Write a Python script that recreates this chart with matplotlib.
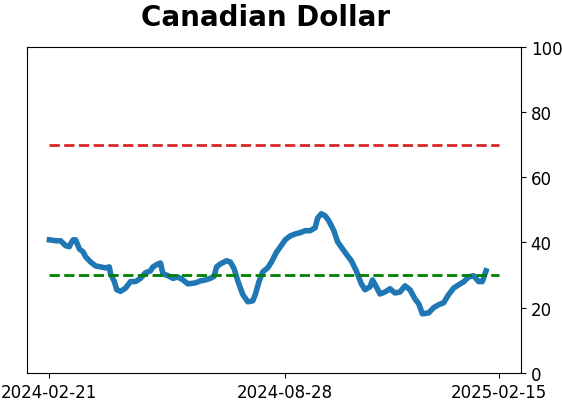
import numpy as np
import pandas as pd
import matplotlib
matplotlib.use("Agg")
import matplotlib.pyplot as plt

title = "Canadian Dollar"

dates = [
    "2024-02-21", "2024-02-27", "2024-03-01", "2024-03-05", "2024-03-08", "2024-03-09",
    "2024-03-11", "2024-03-13", "2024-03-16", "2024-03-19", "2024-03-21", "2024-03-25",
    "2024-03-29", "2024-04-02", "2024-04-06", "2024-04-09", "2024-04-10", "2024-04-13",
    "2024-04-15", "2024-04-18", "2024-04-22", "2024-04-26", "2024-04-30", "2024-05-04",
    "2024-05-08", "2024-05-12", "2024-05-14", "2024-05-18", "2024-05-20", "2024-05-22",
    "2024-05-26", "2024-05-30", "2024-06-03", "2024-06-07", "2024-06-11", "2024-06-17",
    "2024-06-21", "2024-06-25", "2024-06-29", "2024-07-02", "2024-07-04", "2024-07-07",
    "2024-07-12", "2024-07-15", "2024-07-18", "2024-07-21", "2024-07-25", "2024-07-29",
    "2024-08-02", "2024-08-04", "2024-08-07", "2024-08-10", "2024-08-14", "2024-08-17",
    "2024-08-21", "2024-08-24", "2024-08-28", "2024-09-01", "2024-09-05", "2024-09-09",
    "2024-09-13", "2024-09-17", "2024-09-21", "2024-09-23", "2024-09-26", "2024-09-29",
    "2024-10-02", "2024-10-06", "2024-10-09", "2024-10-13", "2024-10-17", "2024-10-20",
    "2024-10-24", "2024-10-28", "2024-10-31", "2024-11-04", "2024-11-06", "2024-11-09",
    "2024-11-12", "2024-11-16", "2024-11-20", "2024-11-24", "2024-11-28", "2024-12-02",
    "2024-12-06", "2024-12-10", "2024-12-13", "2024-12-16", "2024-12-21", "2024-12-25",
    "2024-12-29", "2025-01-02", "2025-01-06", "2025-01-10", "2025-01-14", "2025-01-18",
    "2025-01-22", "2025-01-26", "2025-01-30", "2025-02-02", "2025-02-05",
]
values = [
    40.8, 40.5, 40.5, 39.0, 38.7, 39.6,
    40.8, 40.8, 38.0, 37.1, 35.6, 34.0,
    32.8, 32.5, 32.2, 32.5, 30.4, 28.0,
    25.5, 25.0, 26.0, 28.0, 28.0, 29.0,
    30.7, 31.3, 32.5, 33.4, 33.7, 30.4,
    29.8, 29.0, 29.4, 28.5, 27.3, 27.6,
    28.2, 28.5, 29.0, 29.6, 32.5, 33.4,
    34.4, 34.0, 32.0, 28.2, 24.0, 21.8,
    22.1, 24.0, 28.0, 31.0, 32.2, 34.0,
    37.0, 38.6, 40.8, 42.0, 42.6, 43.0,
    43.6, 43.6, 44.5, 47.5, 48.8, 48.2,
    46.6, 43.6, 40.2, 38.0, 35.9, 34.4,
    31.3, 27.3, 25.5, 26.4, 28.5, 26.4,
    24.2, 24.8, 25.8, 24.5, 24.8, 26.7,
    25.5, 22.7, 21.2, 18.1, 18.4, 20.0,
    20.9, 21.5, 24.0, 26.0, 27.0, 27.9,
    29.4, 29.8, 28.0, 28.0, 31.3,
]

upper_level = 70
lower_level = 30
band_start = "2024-02-21"
band_end = "2025-02-15"
tick_dates = ["2024-02-21", "2024-08-28", "2025-02-15"]

x = pd.to_datetime(dates)
band_x = pd.to_datetime([band_start, band_end])

fig = plt.figure(figsize=(5.62, 4.02), dpi=100)
ax = fig.add_axes([0.048, 0.070, 0.879, 0.811])

ax.plot(x, values, color="#1f77b4", linewidth=4)
ax.plot(band_x, [upper_level, upper_level], color="#d62728", linestyle="--", linewidth=2)
ax.plot(band_x, [lower_level, lower_level], color="green", linestyle="--", linewidth=2)

ax.set_ylim(0, 100)
ax.yaxis.tick_right()
ax.set_yticks([0, 20, 40, 60, 80, 100])
ticks = pd.to_datetime(tick_dates)
ax.set_xticks(ticks)
ax.set_xticklabels(tick_dates)
ax.tick_params(labelsize=12)
ax.set_title(title, fontsize=20, fontweight="bold", pad=16, x=0.482)

fig.savefig("out.png", dpi=100)
